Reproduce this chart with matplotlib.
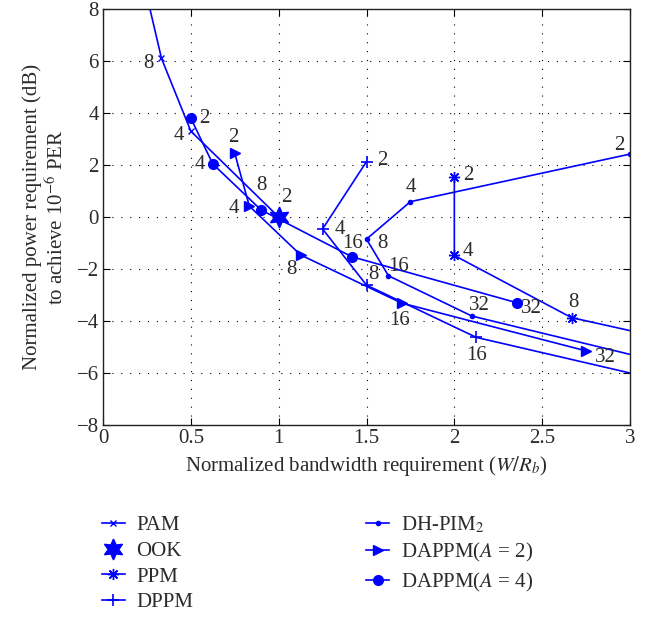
import matplotlib
matplotlib.use('Agg')
import matplotlib.pyplot as plt

plt.rcParams['font.family'] = ['Liberation Serif', 'DejaVu Serif']
plt.rcParams['mathtext.fontset'] = 'stix'
plt.rcParams['axes.unicode_minus'] = True

# values
pam_x = [0.25, 0.333, 0.5, 1.0]
pam_y = [8.5, 6.1, 3.3, 0.0]
pam_lab = ['16', '8', '4', '2']

ook_x = [1.0]
ook_y = [0.0]

ppm_x = [2.0, 2.0, 2.667, 4.0]
ppm_y = [1.52, -1.48, -3.87, -5.87]
ppm_lab = ['2', '4', '8', '16']

dppm_x = [1.5, 1.25, 1.5, 2.125, 3.3]
dppm_y = [2.13, -0.46, -2.62, -4.63, -6.47]
dppm_lab = ['2', '4', '8', '16', '32']

dh_x = [3.0, 1.75, 1.5, 1.625, 2.1, 3.083]
dh_y = [2.42, 0.59, -0.85, -2.26, -3.81, -5.42]
dh_lab = ['2', '4', '8', '16', '32', '64']

a2_x = [0.75, 0.833, 1.125, 1.7, 2.75]
a2_y = [2.45, 0.42, -1.46, -3.31, -5.15]
a2_lab = ['2', '4', '8', '16', '32']

a4_x = [0.5, 0.625, 0.9, 1.417, 2.357]
a4_y = [3.8, 2.04, 0.27, -1.53, -3.3]
a4_lab = ['2', '4', '8', '16', '32']

x_ticks = [0, 0.5, 1, 1.5, 2, 2.5, 3]
y_ticks = [-8, -6, -4, -2, 0, 2, 4, 6, 8]

blue = (0, 0, 1)
txt = '#2b2b2b'
fs = 15

fig = plt.figure(figsize=(6.55, 6.17), dpi=100)
ax = fig.add_axes([103/655, 1 - 425/617, 527/655, 416/617])

l_pam, = ax.plot(pam_x, pam_y, color=blue, lw=1.2, marker='x', ms=5, mew=1.0)
l_ook, = ax.plot(ook_x, ook_y, color=blue, ls='none', marker=(6, 1, 0), ms=15)
l_ppm, = ax.plot(ppm_x, ppm_y, color=blue, lw=1.2, marker=(8, 2, 0), ms=8, mew=1.0)
l_dppm, = ax.plot(dppm_x, dppm_y, color=blue, lw=1.2, marker='+', ms=9, mew=1.2)
l_dh, = ax.plot(dh_x, dh_y, color=blue, lw=1.2, marker='.', ms=6)
l_a2, = ax.plot(a2_x, a2_y, color=blue, lw=1.2, marker='>', ms=7)
l_a4, = ax.plot(a4_x, a4_y, color=blue, lw=1.2, marker='o', ms=7)

# point labels: (x list, y list, labels, index, offset in pixels)
notes = [
    (pam_x, pam_y, pam_lab, 1, (-13, -5)),
    (pam_x, pam_y, pam_lab, 2, (-12, -4)),
    (pam_x, pam_y, pam_lab, 3, (8, 19)),
    (a4_x, a4_y, a4_lab, 0, (13, 0)),
    (a4_x, a4_y, a4_lab, 1, (-13, -1)),
    (a4_x, a4_y, a4_lab, 2, (0, 24)),
    (a4_x, a4_y, a4_lab, 3, (1, 13)),
    (a4_x, a4_y, a4_lab, 4, (14, -6)),
    (a2_x, a2_y, a2_lab, 0, (-1, 16)),
    (a2_x, a2_y, a2_lab, 1, (-15, -2)),
    (a2_x, a2_y, a2_lab, 2, (-9, -15)),
    (a2_x, a2_y, a2_lab, 3, (-2, -17)),
    (a2_x, a2_y, a2_lab, 4, (19, -7)),
    (dppm_x, dppm_y, dppm_lab, 0, (16, 1)),
    (dppm_x, dppm_y, dppm_lab, 1, (17, -1)),
    (dppm_x, dppm_y, dppm_lab, 2, (7, 11)),
    (dppm_x, dppm_y, dppm_lab, 3, (0, -18)),
    (dh_x, dh_y, dh_lab, 0, (-11, 9)),
    (dh_x, dh_y, dh_lab, 1, (0, 14)),
    (dh_x, dh_y, dh_lab, 2, (16, -4)),
    (dh_x, dh_y, dh_lab, 3, (10, 9)),
    (dh_x, dh_y, dh_lab, 4, (7, 11)),
    (ppm_x, ppm_y, ppm_lab, 0, (14, 2)),
    (ppm_x, ppm_y, ppm_lab, 1, (14, 4)),
    (ppm_x, ppm_y, ppm_lab, 2, (2, 15)),
]
for xs, ys, labs, i, off in notes:
    ax.annotate(labs[i], xy=(xs[i], ys[i]), xytext=off, textcoords='offset pixels',
                ha='center', va='center', fontsize=fs, color=txt)

ax.set_xlim(0, 3)
ax.set_ylim(-8, 8)
ax.set_xticks(x_ticks)
ax.set_xticklabels(['0', '0.5', '1', '1.5', '2', '2.5', '3'])
ax.set_yticks(y_ticks)
ax.tick_params(direction='in', top=True, right=True, length=5, labelsize=fs,
               labelcolor=txt, width=0.8, pad=3)
ax.grid(True, color='black', lw=0.8, ls=(0, (1, 7)))
for s in ax.spines.values():
    s.set_linewidth(1.0)
    s.set_color('#222222')

ax.set_xlabel('Normalized bandwidth requirement ($W/R_b$)', fontsize=fs, color=txt, labelpad=4)
ax.set_ylabel('Normalized power requirement (dB)\nto achieve 10$^{-6}$ PER', fontsize=fs,
              color=txt, labelpad=6)

handles = [l_pam, l_ook, l_ppm, l_dppm, l_dh, l_a2, l_a4]
names = ['PAM', 'OOK', 'PPM', 'DPPM', 'DH-PIM$_2$', 'DAPPM($A$ = 2)', 'DAPPM($A$ = 4)']
leg = fig.legend(handles, names, loc='upper left', bbox_to_anchor=(0.143, 0.18), ncol=2,
                 frameon=False, fontsize=fs, handlelength=1.1, handletextpad=0.55,
                 labelspacing=0.3, columnspacing=8.3, borderaxespad=0)
for t in leg.get_texts():
    t.set_color(txt)

fig.savefig('out.png', dpi=100)
